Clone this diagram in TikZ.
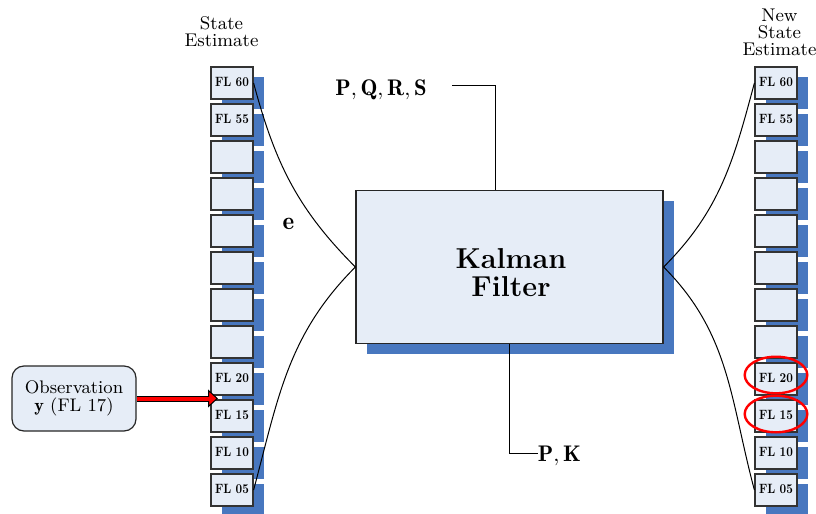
\documentclass[tikz,border=0pt]{standalone}
\usepackage{fontspec}
\newfontfamily\flfont{lmroman10-bold.otf}
\usetikzlibrary{arrows.meta,shapes.geometric,shadows,calc}
\definecolor{shadowblue}{RGB}{72,119,191}
\definecolor{boxfill}{RGB}{230,237,247}
\begin{document}
\begin{tikzpicture}[x=0.5pt,y=-0.5pt,
  flbox/.style={draw=black!80, fill=boxfill, line width=0.6pt,
    minimum width=21pt, minimum height=16pt, inner sep=0pt,
    font=\flfont\fontsize{5.75}{7}\selectfont,
    drop shadow={shadow xshift=5.5pt, shadow yshift=-5pt, fill=shadowblue, opacity=1}},
  kbox/.style={draw=black!85, fill=boxfill, line width=0.6pt,
    minimum width=153.5pt, minimum height=76.3pt, inner sep=0pt,
    drop shadow={shadow xshift=5.5pt, shadow yshift=-5.25pt, fill=shadowblue, opacity=1}},
  kftext/.style={align=center, inner sep=0pt, font=\fontsize{14.4}{14}\selectfont\bfseries},
  obsbox/.style={draw=black!85, fill=boxfill, line width=0.6pt, rounded corners=6pt,
    minimum width=62pt, minimum height=32.5pt, inner sep=0pt, align=center,
    font=\fontsize{9.1}{9}\selectfont},
  toplabel/.style={align=center, inner sep=0pt, font=\fontsize{9.2}{8.5}\selectfont},
  mathlabel/.style={inner sep=0pt, font=\fontsize{11.3}{13}\selectfont},
  conn/.style={draw=black, line width=0.5pt},
  redring/.style={draw=red, ellipse, line width=1.2pt, minimum width=31.3pt, minimum height=18.3pt, inner sep=0pt}
]
\useasboundingbox (0,0) rectangle (816,514);

% labels above stacks
\node[toplabel] (se) at (221.5,31.5) {State\\Estimate};
\node[toplabel] (nse) at (779.5,32) {New\\State\\Estimate};

% stacks
\foreach \lab [count=\i from 0] in {{FL 60},{FL 55},{},{},{},{},{},{},{FL 20},{FL 15},{FL 10},{FL 05}} {
  \node[flbox] (L\i) at (232,{83+37*\i}) {\raisebox{1pt}{\scalebox{1}[1.17]{\lab}}};
  \node[flbox] (R\i) at (776,{83+37*\i}) {\raisebox{1pt}{\scalebox{1}[1.17]{\lab}}};
}

% Kalman filter
\node[kbox] (kf) at (509.5,267) {};
\node[kftext] (kft) at (511,273) {Kalman\\Filter};

% curves
\draw[conn] (L0.east) to[out=-75,in=135] (kf.west);
\draw[conn] (L11.east) to[out=75,in=-135] (kf.west);
\draw[conn] (kf.east) to[out=45,in=-105] (R0.west);
\draw[conn] (kf.east) to[out=-45,in=105] (R11.west);

% e label
\node[inner sep=0pt, font=\fontsize{12.5}{14}\selectfont] (elab) at (288.5,224) {$\mathbf{e}$};

% top input
\node[mathlabel, anchor=base] (pqrs) at (381,96) {$\mathbf{P},\mathbf{Q},\mathbf{R},\mathbf{S}$};
\coordinate (pq1) at (452,85);
\draw[conn] (pq1) -| ($(kf.north)+(-14.5,0)$);

% bottom output
\node[mathlabel, anchor=base west] (pk) at (537.5,461) {$\mathbf{P},\mathbf{K}$};
\draw[conn] (kf.south) |- ($(pk.base west)+(0,-8)$);

% observation
\node[obsbox] (obs) at (74,398.5) {Observation\\$\mathbf{y}$ (FL 17)};
\coordinate (obstip) at (218,398.5);
\draw[black, line width=3pt, -{Triangle[length=5pt,width=9pt,fill=red,line width=0.5pt]}] (obs.east) -- (obstip);
\draw[red, line width=2pt, shorten >=4pt] (obs.east) -- (obstip);

% highlight rings
\node[redring] (m20) at (776,375) {};
\node[redring] (m15) at (776,414) {};
\end{tikzpicture}
\end{document}
